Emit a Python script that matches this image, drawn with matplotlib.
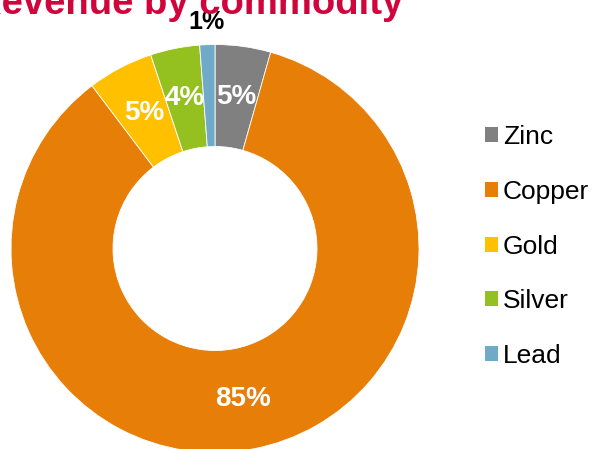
import numpy as np
import matplotlib.pyplot as plt
from matplotlib.patches import Patch

plt.rcParams['font.family'] = ['Liberation Sans', 'DejaVu Sans']

# Datos
commodities = ['Zinc', 'Copper', 'Gold', 'Silver', 'Lead']
shares = [4.4, 85.3, 5.2, 3.9, 1.2]
labels = ['5%', '85%', '5%', '4%', '1%']
colors = ['#808080', '#E67E07', '#FFC000', '#94C120', '#6FAAC9']

W, H = 594, 449
fig = plt.figure(figsize=(W / 100, H / 100), dpi=100)

# Donut: centro (215, 248.5) px, radio 204 px
cx, cy, r = 215, 248.5, 204
ax = fig.add_axes([(cx - r) / W, (H - cy - r) / H, 2 * r / W, 2 * r / H])
ax.pie(shares, colors=colors, startangle=90, counterclock=False,
       wedgeprops=dict(width=0.5, edgecolor='white', linewidth=0.6))
ax.set_xlim(-1, 1)
ax.set_ylim(-1, 1)
ax.set_aspect('equal')
ax.axis('off')

# Etiquetas en el centro de cada anillo
total = sum(shares)
start = 90.0
for share, lab in zip(shares, labels):
    sweep = share / total * 360
    mid = np.deg2rad(start - sweep / 2)
    start -= sweep
    if share < 2:
        rr, col, fs = 1.11, 'black', 18
    else:
        rr, col, fs = 0.75, 'white', 20
    ax.text(rr * np.cos(mid), rr * np.sin(mid), lab, ha='center', va='center',
            color=col, fontsize=fs, fontweight='bold', clip_on=False)

# Titulo (cortado arriba en la imagen original)
fig.text(-26 / W, 1 - 14 / H, 'Revenue by commodity', color='#D0053B',
         fontsize=27.5, fontweight='bold', ha='left', va='baseline')

# Leyenda
handles = [Patch(facecolor=c, edgecolor='none') for c in colors]
fig.legend(handles, commodities, loc='center left',
           bbox_to_anchor=(474 / W, 1 - 246.5 / H), frameon=False,
           fontsize=19, handlelength=0.5, handleheight=0.5,
           handletextpad=0.19, labelspacing=1.16, borderaxespad=0)

fig.savefig('out.png', dpi=100)
